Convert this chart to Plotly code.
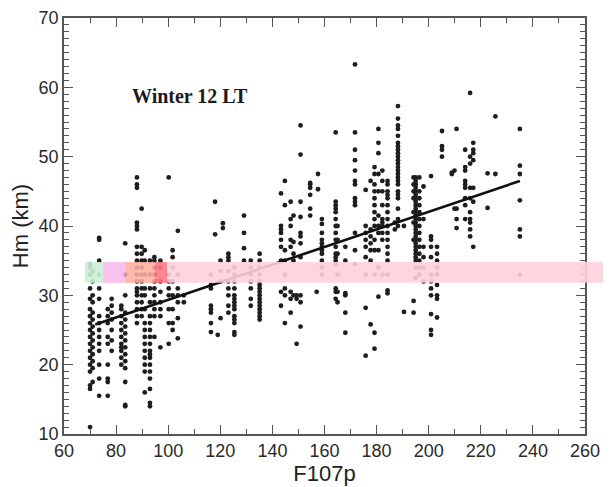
import plotly.graph_objects as go

# ---- data ----
col_x = [70, 71, 73.5, 76.8, 78.3, 82, 83.5, 88, 89.8, 91, 93, 94.7, 97, 100.2, 101.7, 103.7, 106,
         116.4, 118, 119, 120.1, 121, 123.1, 125.4, 129.1, 131.7, 135.1,
         143.3, 144.8, 147, 148.1, 149.3, 150.8, 154.5, 157, 157.5, 159,
         164.3, 165, 168, 171.7, 175.8, 177.7, 179.2, 180.7, 182.2, 184.2, 187, 188.2, 190.5,
         194.2, 195, 196.4, 198, 200.9, 203.2, 205.1, 208.9, 209.9, 210.7, 214, 215.9, 217.1,
         222.6, 225.6, 235]
col_y = [
    [11, 16.5, 17, 19, 20, 21, 22, 23, 24, 25, 26, 27, 28, 29.5, 31, 33, 34, 34.5],
    [17.5, 19.5, 20.5, 21.5, 22.5, 23.5, 24.5, 25.5, 26.5, 27.5, 29, 30, 32, 33.5],
    [15.5, 18, 20, 22, 23, 24, 25, 26, 27, 29.5, 31, 33, 35, 38, 38.3],
    [15.5, 17.5, 18, 20, 23, 24, 26, 27, 28],
    [22, 23.5, 25, 26.5, 27.5, 28.5, 29.5],
    [20, 21, 22, 22.5, 23, 24, 25, 26, 27, 28, 28.5],
    [14, 14.2, 17.5, 19.5, 20.5, 21.5, 22.5, 23.5, 24.5, 25.5, 26.5, 27.5, 30, 33, 37.5],
    [26, 27, 28, 29, 30, 30.5, 31, 32, 33, 34, 35, 36, 37, 39.5, 40, 40.5, 45.5, 46, 47],
    [27, 28, 29, 30, 31, 32, 33, 34, 35, 36, 37, 42.5],
    [16, 19, 20, 21, 22, 23, 24, 25, 26, 28, 30, 31, 33, 35, 36.5],
    [14, 14.5, 16.5, 18, 19, 20, 21, 21.5, 22, 23, 24, 25, 26, 27, 29, 31, 33, 35],
    [24, 27, 28, 29, 30, 31, 32, 33, 34, 35, 35.5],
    [22.5, 27, 28, 29, 30.5, 32, 34, 35],
    [23, 26, 28, 30, 31, 32, 33, 47],
    [25, 26, 28, 30, 32, 34, 35.5, 36.5],
    [23.8, 26.7, 29, 30, 31, 33, 39.3],
    [29, 30],
    [24.7, 26, 27.5, 28, 28.5, 31, 31.5, 33],
    [38.8, 43.5],
    [24.3],
    [26.7, 32, 33.5, 35],
    [39.7, 40.4],
    [27.5, 28.5, 30, 31, 32, 33.5, 35, 35.5, 36],
    [24.3, 24.7, 26, 26.5, 27, 28, 28.5, 29, 29.5, 30, 31, 32, 33, 34],
    [35, 36.8, 39, 41.5],
    [28.5, 29.5, 31, 32, 33, 34, 35],
    [26.5, 27, 27.5, 28, 28.5, 29, 29.5, 30, 30.5, 31, 31.5, 32, 33, 34, 35, 36],
    [28.5, 30.5, 35, 37, 38, 39, 39.5, 40, 44.7],
    [26, 30, 31, 33, 35, 36.5, 43, 46.5],
    [27.5, 29.5, 30.5, 37, 38, 40, 41, 43.5],
    [30, 35, 36, 37.7, 41.5],
    [23, 29.5, 30],
    [25.5, 29, 30, 35.5, 37.5, 38.5, 39, 41.3, 43.5, 50.3, 54.5],
    [41.5, 42.5, 44.5, 45.5, 46, 46.2],
    [30.5],
    [45.3, 47.5],
    [33, 34, 35, 36, 36.5, 37, 37.5, 38, 39, 40.3, 41],
    [29.5, 30.5, 31, 34.5, 35, 35.5, 36, 37, 38, 39, 40, 41, 42, 42.5, 43, 43.5, 53.5],
    [29, 30.5, 33, 36, 38, 40],
    [24.6, 27.5, 30, 30.3, 35, 37],
    [34.5, 36.5, 39, 43, 43.5, 44, 46, 46.5, 48, 49.5, 51, 53.5, 63.3],
    [21.3, 28.2, 33, 35.5, 37, 38, 39, 40, 45.2],
    [25.8, 35, 36.5, 37.5, 38.5, 39.5, 46.5],
    [22.3, 24.6, 33, 36.5, 38, 40, 41, 42, 43, 44, 45, 46, 47.5, 48.5],
    [29.8, 34, 36.5, 39, 40, 41.5, 45, 47.5, 50.5, 52, 54],
    [33, 38, 39, 40, 40.5, 41, 43, 45, 46.5, 48],
    [30.3, 30.7, 33, 35, 36, 37, 38, 39, 40, 41, 42, 43, 44, 44.5, 45, 46, 46.5],
    [39.5, 40.5],
    [40, 41, 42.5, 44, 44.5, 45, 46, 46.5, 47, 47.5, 48, 48.5, 49, 49.5, 50, 50.5, 51, 51.5,
     52, 53, 54, 54.5, 55.5, 57.3],
    [27.6, 40],
    [27.5, 29.2, 38, 40.5, 42, 44, 45, 46, 47],
    [32.5, 34, 35, 35.5, 36, 36.5, 37, 37.5, 38, 38.5, 39, 39.5, 40, 40.5, 41, 41.5, 42, 42.5,
     43, 43.5, 44, 44.5, 45, 45.5, 46, 46.5, 47],
    [33, 34, 35, 36, 37, 38, 39, 40, 41, 42, 43, 44, 45, 47],
    [32, 34, 35.5, 37, 41, 45.7],
    [24.3, 25, 27.3, 30, 31, 32, 33, 35.5, 37, 38, 38.5, 47.2],
    [26.8, 29.5, 30, 31.5, 33, 34, 35, 36, 37],
    [50, 51, 51.5, 53.7],
    [47.5, 47.7],
    [42.5, 48],
    [39.7, 41, 42.5, 54],
    [41, 43, 44, 45.5, 46, 46.5, 48, 48.5, 51],
    [38.5, 39.5, 40.5, 41, 42, 44, 45.5, 49, 50, 59.2],
    [37, 43.5, 45.5, 49.5, 50.5, 51, 52],
    [42.6, 47.6],
    [47.5, 55.8],
    [33, 38.5, 39.5, 43.7, 47.5, 48.7, 54],
]
fit_x = [72, 235]
fit_y = [25.8, 46.5]
x_ticks = [60, 80, 100, 120, 140, 160, 180, 200, 220, 240, 260]
y_ticks = [10, 20, 30, 40, 50, 60, 70]

pts_x, pts_y = [], []
for cx, ys in zip(col_x, col_y):
    for v in ys:
        pts_x.append(cx)
        pts_y.append(v)

fig = go.Figure()
fig.add_trace(go.Scatter(x=pts_x, y=pts_y, mode="markers",
                         marker=dict(color="#1e1e1e", size=4.8, line=dict(width=0)),
                         showlegend=False))
fig.add_trace(go.Scatter(x=fit_x, y=fit_y, mode="lines",
                         line=dict(color="#111111", width=2.6), showlegend=False))

# overlay band (artifact in reference image)
band_y0, band_y1 = 31.8, 34.8
segs = [(68, 75, "rgba(205,240,215,0.9)"),
        (75, 83.5, "rgba(248,185,235,0.88)"),
        (83.5, 95, "rgba(255,175,160,0.88)"),
        (95, 99.6, "rgba(255,120,135,0.9)")]
for a, b, c in segs:
    fig.add_shape(type="rect", xref="x", yref="y", x0=a, x1=b, y0=band_y0, y1=band_y1,
                  fillcolor=c, line=dict(width=0), layer="above")
fig.add_shape(type="rect", xref="paper", yref="y", x0=(99.6 - 60) / 200, x1=1.07,
              y0=band_y0, y1=band_y1, fillcolor="rgba(255,208,220,0.9)",
              line=dict(width=0), layer="above")

fig.add_annotation(x=85.3, y=58.8, xref="x", yref="y", text="<b>Winter 12 LT</b>",
                   showarrow=False, xanchor="left", yanchor="middle",
                   font=dict(family="Liberation Serif, Times New Roman, serif", size=20, color="#1a1a1a"))

axis_common = dict(showgrid=False, zeroline=False, showline=True, linecolor="#555555",
                   linewidth=1.5, mirror="ticks", ticks="inside", tickcolor="#555555",
                   tickwidth=1.3, ticklen=9, automargin=False,
                   tickfont=dict(family="Liberation Sans, Arial, sans-serif", size=18, color="#2a2a2a"))

fig.update_xaxes(range=[60, 260], tickmode="array", tickvals=x_ticks,
                 ticktext=[str(t) for t in x_ticks],
                 minor=dict(dtick=10, ticklen=5, ticks="inside", tickcolor="#555555"),
                 title=dict(text="F107p", standoff=5,
                            font=dict(family="Liberation Sans, Arial, sans-serif", size=22, color="#222")),
                 **axis_common)
fig.update_yaxes(range=[10, 70], tickmode="array", tickvals=y_ticks,
                 ticktext=[str(t) for t in y_ticks],
                 minor=dict(dtick=1, ticklen=5, ticks="inside", tickcolor="#555555"),
                 title=dict(text="Hm (km)", standoff=6,
                            font=dict(family="Liberation Sans, Arial, sans-serif", size=22, color="#222")),
                 **axis_common)

# the page body adds an 8px offset, so the figure is 8px smaller with shifted margins
fig.update_layout(width=603, height=479, margin=dict(l=56, r=26, t=10, b=53),
                  plot_bgcolor="white", paper_bgcolor="white")

fig.write_html("out.html")
